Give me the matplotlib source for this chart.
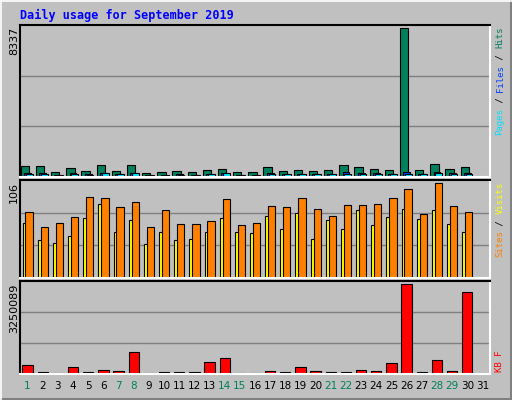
import matplotlib
matplotlib.use("Agg")
import matplotlib.pyplot as plt

days = list(range(1, 32))
hits = [600,600,300,520,350,650,350,650,240,260,320,300,410,470,300,300,580,350,410,350,410,690,580,470,410,8337,410,750,470,580]
files = [230,230,130,230,160,230,160,230,110,120,140,130,180,200,130,130,230,160,180,160,180,280,230,200,180,300,180,280,200,230]
pages = [150,150,100,150,120,230,160,200,100,110,120,110,180,200,120,110,180,160,170,150,160,180,180,170,160,150,180,230,170,170]
sites = [74,57,62,68,91,89,80,85,57,76,61,60,64,88,59,62,81,80,90,77,69,82,82,83,90,100,72,106,81,74]
visits = [62,42,39,47,67,83,52,65,38,51,43,44,51,67,52,50,69,55,73,44,65,55,76,59,68,77,66,76,61,51]
kbytes = [330000,82000,47000,260000,82000,150000,118000,790000,47000,82000,82000,82000,435000,577000,47000,47000,118000,82000,260000,118000,82000,82000,150000,118000,400000,3250089,82000,506000,118000,2970000]
weekend = [1,7,8,14,15,21,22,28,29]

W, H = 512, 400
fig = plt.figure(figsize=(W/100, H/100), dpi=100)
fig.patch.set_facecolor("#C0C0C0")
fig.add_artist(plt.Line2D([1-1.5/W, 1-1.5/W], [0, 1], color="#808080", lw=2.2, transform=fig.transFigure))
fig.add_artist(plt.Line2D([0, 1], [1.5/H, 1.5/H], color="#808080", lw=2.2, transform=fig.transFigure))
fig.add_artist(plt.Line2D([0.5/W, 0.5/W], [0, 1], color="white", lw=1.2, transform=fig.transFigure))
fig.add_artist(plt.Line2D([0, 1], [1-0.5/H, 1-0.5/H], color="white", lw=1.2, transform=fig.transFigure))

def mkax(top, bot):
    ax = fig.add_axes([20/W, 1-bot/H, 470/W, (bot-top)/H])
    ax.set_facecolor("#C0C0C0")
    ax.set_xlim(0.5, 31.5)
    for s in ("left", "top"):
        ax.spines[s].set_color("black"); ax.spines[s].set_linewidth(1.5)
    for s in ("right", "bottom"):
        ax.spines[s].set_color("white"); ax.spines[s].set_linewidth(1.5)
    ax.set_yticks([]); ax.set_xticks([])
    return ax

def grid(ax, top):
    for f in (1/3, 2/3):
        ax.axhline(top*f, color="#808080", lw=1, zorder=0)

d = days[:30]
ax1 = mkax(25, 177)
t1 = max(hits)*1.02
ax1.set_ylim(0, t1); grid(ax1, t1)
ax1.bar([x-0.17 for x in d], hits, width=0.55, color="#00805C", ec="black", lw=0.8)
ax1.bar([x+0.0 for x in d], files, width=0.45, color="#0040FF", ec="black", lw=0.8)
ax1.bar([x+0.12 for x in d], pages, width=0.45, color="#00E0FF", ec="black", lw=0.8)

ax2 = mkax(180, 278)
t2 = max(sites)*1.035
ax2.set_ylim(0, t2); grid(ax2, t2)
ax2.bar([x-0.17 for x in d], visits, width=0.32, color="#FFFF00", ec="black", lw=0.8)
ax2.bar([x+0.1 for x in d], sites, width=0.48, color="#FF8000", ec="black", lw=0.8)

ax3 = mkax(281, 374)
t3 = max(kbytes)*1.035
ax3.set_ylim(0, t3); grid(ax3, t3)
ax3.bar(d, kbytes, width=0.68, color="#FF0000", ec="black", lw=0.8)

ax3.set_xticks(days)
ax3.set_xticklabels([str(x) for x in days], fontsize=7.5)
ax3.tick_params(axis="x", length=0, pad=5)
for lab, x in zip(ax3.get_xticklabels(), days):
    lab.set_color("#00805C" if x in weekend else "black")

mono = "DejaVu Sans Mono"
fig.text(20/W, 1-15/H, "Daily usage for September 2019", color="#0000FF", fontsize=8.5,
         fontweight="bold", family=mono, va="center", ha="left")

for txt, top in ((str(max(hits)), 27), (str(max(sites)), 182), (str(max(kbytes)), 284)):
    fig.text(14/W, 1-top/H, txt, rotation=90, va="top", ha="center", fontsize=8)

cw = 5.4
def vlegend(x, top, parts):
    y = top
    for s, c in parts:
        fig.text(x/W, 1-y/H, s, rotation=90, va="top", ha="center", fontsize=6.5, family=mono, color=c)
        y += cw*len(s)

vlegend(500, 27, [("Hits", "#00805C"), (" / ", "black"), ("Files", "#0040FF"), (" / ", "black"), ("Pages", "#00E0FF")])
vlegend(500, 182, [("Visits", "#FFFF00"), (" / ", "black"), ("Sites", "#FF8000")])
vlegend(500, 350, [("KB F", "#FF0000")])

fig.savefig("out.png", dpi=100, facecolor=fig.get_facecolor())
